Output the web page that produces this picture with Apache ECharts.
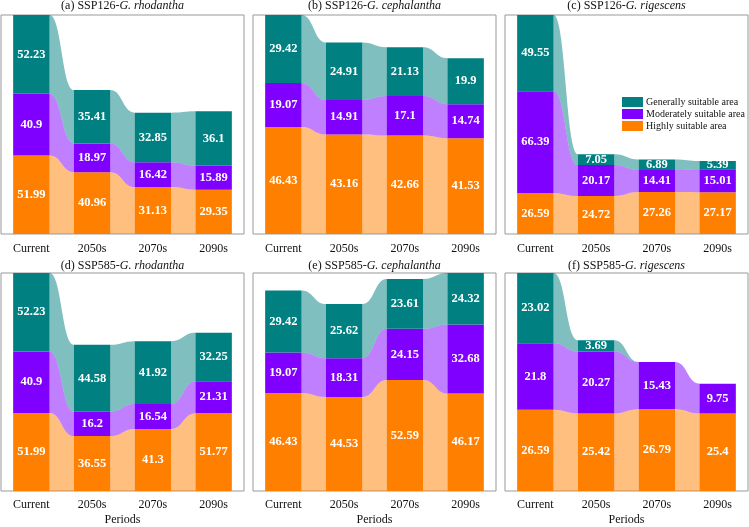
<!DOCTYPE html>
<html>
<head>
<meta charset="utf-8">
<script src="https://cdn.jsdelivr.net/npm/echarts@6.0.0/dist/echarts.min.js"></script>
<style>
  html, body { margin: 0; padding: 0; background: #fff; }
  #chart { width: 749px; height: 527px; }
</style>
</head>
<body>
<div id="chart"></div>
<script>
// 时期
const periods = ['Current', '2050s', '2070s', '2090s'];
const seriesNames = ['Highly suitable area', 'Moderately suitable area', 'Generally suitable area'];

// (a) SSP126-G. rhodantha
const highA = [51.99, 40.96, 31.13, 29.35];
const modA  = [40.9, 18.97, 16.42, 15.89];
const genA  = [52.23, 35.41, 32.85, 36.1];
// (b) SSP126-G. cephalantha
const highB = [46.43, 43.16, 42.66, 41.53];
const modB  = [19.07, 14.91, 17.1, 14.74];
const genB  = [29.42, 24.91, 21.13, 19.9];
// (c) SSP126-G. rigescens
const highC = [26.59, 24.72, 27.26, 27.17];
const modC  = [66.39, 20.17, 14.41, 15.01];
const genC  = [49.55, 7.05, 6.89, 5.39];
// (d) SSP585-G. rhodantha
const highD = [51.99, 36.55, 41.3, 51.77];
const modD  = [40.9, 16.2, 16.54, 21.31];
const genD  = [52.23, 44.58, 41.92, 32.25];
// (e) SSP585-G. cephalantha
const highE = [46.43, 44.53, 52.59, 46.17];
const modE  = [19.07, 18.31, 24.15, 32.68];
const genE  = [29.42, 25.62, 23.61, 24.32];
// (f) SSP585-G. rigescens
const highF = [26.59, 25.42, 26.79, 25.4];
const modF  = [21.8, 20.27, 15.43, 9.75];
const genF  = [23.02, 3.69, 0, 0];

const panels = [
  {tag: '(a)', ssp: 'SSP126', sp: 'G. rhodantha', data: [highA, modA, genA]},
  {tag: '(b)', ssp: 'SSP126', sp: 'G. cephalantha', data: [highB, modB, genB]},
  {tag: '(c)', ssp: 'SSP126', sp: 'G. rigescens', data: [highC, modC, genC]},
  {tag: '(d)', ssp: 'SSP585', sp: 'G. rhodantha', data: [highD, modD, genD]},
  {tag: '(e)', ssp: 'SSP585', sp: 'G. cephalantha', data: [highE, modE, genE]},
  {tag: '(f)', ssp: 'SSP585', sp: 'G. rigescens', data: [highF, modF, genF]}
];

const colors = ['#FF8000', '#8000FF', '#008080'];
const flowColors = ['rgba(255,128,0,0.5)', 'rgba(128,0,255,0.5)', 'rgba(0,128,128,0.5)'];
const FONT = '"Liberation Serif", "Times New Roman", serif';
const BAR_RATIO = 0.6;

const colLeft = [1, 253, 505];
const panelW = 243;
const rowTop = [15, 273];
const rowH = [219, 222];

// 流带：从一个柱子右边到下一个柱子左边
function renderFlow(params, api) {
  const i = api.value(0);
  const a = api.coord([i, api.value(1)]);
  const b = api.coord([i, api.value(2)]);
  const c = api.coord([i + 1, api.value(3)]);
  const d = api.coord([i + 1, api.value(4)]);
  const hw = api.size([1, 0])[0] * BAR_RATIO / 2;
  const x0 = a[0] + hw, x1 = c[0] - hw, xm = (x0 + x1) / 2;
  const path = 'M' + x0 + ',' + b[1] +
    ' C' + xm + ',' + b[1] + ' ' + xm + ',' + d[1] + ' ' + x1 + ',' + d[1] +
    ' L' + x1 + ',' + c[1] +
    ' C' + xm + ',' + c[1] + ' ' + xm + ',' + a[1] + ' ' + x0 + ',' + a[1] + ' Z';
  return {
    type: 'path',
    shape: {pathData: path},
    style: {fill: api.visual('color')}
  };
}

const grid = [], xAxis = [], yAxis = [], title = [], series = [];

panels.forEach(function (p, k) {
  const row = Math.floor(k / 3), col = k % 3;
  grid.push({
    left: colLeft[col], top: rowTop[row], width: panelW, height: rowH[row],
    show: true, borderColor: '#999', borderWidth: 1, backgroundColor: '#fff'
  });
  xAxis.push({
    type: 'category', gridIndex: k, data: periods,
    axisLine: {show: false}, axisTick: {show: false},
    axisLabel: {fontFamily: FONT, fontSize: 12, color: '#111', margin: row === 0 ? 9 : 8},
    name: row === 1 ? 'Periods' : '', nameLocation: 'middle', nameGap: 23,
    nameTextStyle: {fontFamily: FONT, fontSize: 12, color: '#111'}
  });
  const totals = periods.map(function (_, i) { return p.data[0][i] + p.data[1][i] + p.data[2][i]; });
  yAxis.push({type: 'value', gridIndex: k, min: 0, max: Math.max.apply(null, totals), show: false});
  title.push({
    text: p.tag + ' ' + p.ssp + '-{i|' + p.sp + '}',
    left: colLeft[col] + panelW / 2, top: row === 0 ? 0 : 260, textAlign: 'center', padding: 0,
    textStyle: {
      fontFamily: FONT, fontSize: 12, fontWeight: 'normal', color: '#111',
      rich: {i: {fontFamily: FONT, fontSize: 12, fontStyle: 'italic', color: '#111'}}
    }
  });

  // 堆叠柱子
  p.data.forEach(function (vals, s) {
    series.push({
      type: 'bar', name: seriesNames[s], xAxisIndex: k, yAxisIndex: k,
      stack: 'p' + k, barWidth: (BAR_RATIO * 100) + '%', data: vals,
      itemStyle: {color: colors[s]},
      label: {
        show: true, position: 'inside', color: '#fff', fontFamily: FONT,
        fontSize: 12.5, fontWeight: 'bold',
        formatter: function (d) { return d.value ? String(d.value) : ''; }
      },
      z: 3
    });
  });

  // 流带数据
  p.data.forEach(function (vals, s) {
    const flows = [];
    for (let i = 0; i < periods.length - 1; i++) {
      let lo0 = 0, lo1 = 0;
      for (let t = 0; t < s; t++) { lo0 += p.data[t][i]; lo1 += p.data[t][i + 1]; }
      flows.push([i, lo0, lo0 + vals[i], lo1, lo1 + vals[i + 1]]);
    }
    series.push({
      type: 'custom', name: 'flow' + s, xAxisIndex: k, yAxisIndex: k,
      renderItem: renderFlow, data: flows,
      itemStyle: {color: flowColors[s]},
      encode: {x: 0, y: [1, 2, 3, 4]},
      silent: true, z: 2
    });
  });
});

const chart = echarts.init(document.getElementById('chart'));
chart.setOption({
  animation: false,
  title: title,
  grid: grid,
  xAxis: xAxis,
  yAxis: yAxis,
  legend: {
    data: ['Generally suitable area', 'Moderately suitable area', 'Highly suitable area'],
    orient: 'vertical', left: 622, top: 97, itemGap: 2, padding: 0,
    itemWidth: 21, itemHeight: 10, icon: 'rect',
    textStyle: {fontFamily: FONT, fontSize: 10, color: '#111', padding: [0, 0, 0, -2]}
  },
  series: series
});
</script>
</body>
</html>
